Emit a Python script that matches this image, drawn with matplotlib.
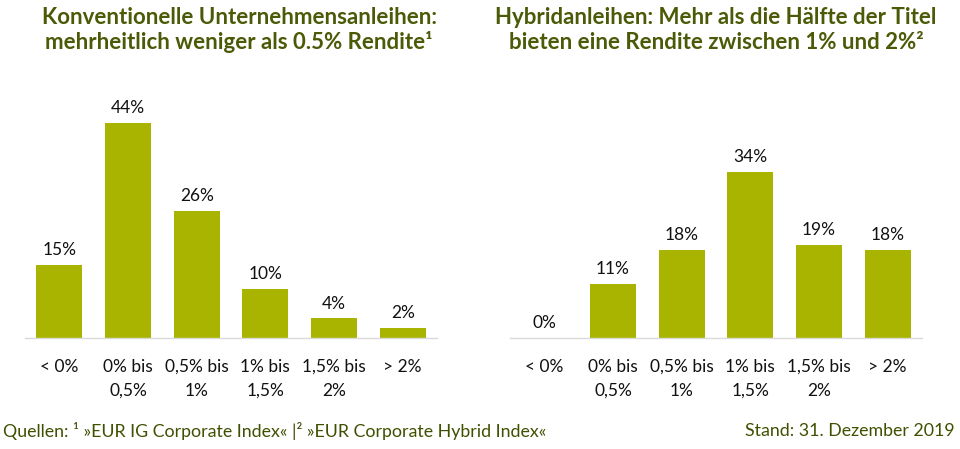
"""Yield distribution of conventional vs. hybrid corporate bonds (two bar panels)."""
import matplotlib
matplotlib.use("Agg")
import matplotlib.pyplot as plt

categories = ["< 0%", "0% bis\n0,5%", "0,5% bis\n1%", "1% bis\n1,5%", "1,5% bis\n2%", "> 2%"]
conventional = [15, 44, 26, 10, 4, 2]
hybrid = [0, 11, 18, 34, 19, 18]

title_left = "Konventionelle Unternehmensanleihen:\nmehrheitlich weniger als 0.5% Rendite\u00b9"
title_right = "Hybridanleihen: Mehr als die Hälfte der Titel\nbieten eine Rendite zwischen 1% und 2%\u00b2"
source_note = "Quellen: \u00b9 »EUR IG Corporate Index« |\u00b2 »EUR Corporate Hybrid Index«"
date_note = "Stand: 31. Dezember 2019"

BAR_COLOR = "#a9b400"
TITLE_COLOR = "#4a5a06"
NOTE_COLOR = "#3f5000"

plt.rcParams["font.family"] = ["Lato", "DejaVu Sans"]

W, H = 960, 449
fig = plt.figure(figsize=(W / 100, H / 100), dpi=100)


def px_axes(x0, x1, y_base, y_top):
    return fig.add_axes([x0 / W, 1 - y_base / H, (x1 - x0) / W, (y_base - y_top) / H])


def draw_panel(ax, values):
    x = range(len(categories))
    bars = ax.bar(x, values, width=0.67, color=BAR_COLOR)
    for b, v in zip(bars, values):
        ax.annotate(f"{v}%", (b.get_x() + b.get_width() / 2, v), xytext=(0, 5),
                    textcoords="offset points", ha="center", va="bottom",
                    fontsize=12.5, color="#111111")
    ax.set_xlim(-0.5, len(categories) - 0.5)
    ax.set_ylim(0, 50)
    ax.set_xticks(list(x))
    ax.set_xticklabels(categories, fontsize=12.5, color="#111111", linespacing=1.6)
    ax.tick_params(axis="x", length=0, pad=15)
    ax.set_yticks([])
    for side in ("top", "right", "left"):
        ax.spines[side].set_visible(False)
    ax.spines["bottom"].set_color("#d9d9d9")
    ax.spines["bottom"].set_linewidth(1)


ax1 = px_axes(25, 437, 338, 94)
draw_panel(ax1, conventional)
ax2 = px_axes(510, 922, 338, 94)
draw_panel(ax2, hybrid)

fig.text(239 / W, 1 - 30 / H, title_left, ha="center", va="center", fontsize=16,
         fontweight="bold", color=TITLE_COLOR, linespacing=1.2)
fig.text(716 / W, 1 - 30 / H, title_right, ha="center", va="center", fontsize=16,
         fontweight="bold", color=TITLE_COLOR, linespacing=1.2)

fig.text(3 / W, 1 - 431 / H, source_note, ha="left", va="center", fontsize=12.8, color=NOTE_COLOR)
fig.text(955 / W, 1 - 431 / H, date_note, ha="right", va="center", fontsize=12.8, color=NOTE_COLOR)

fig.savefig("out.png", dpi=100, facecolor="white")
